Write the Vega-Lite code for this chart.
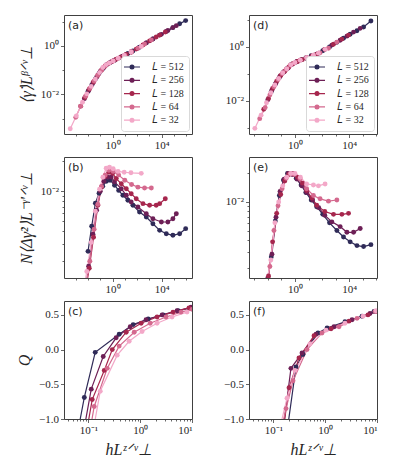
{
"$schema": "https://vega.github.io/schema/vega-lite/v6.json",
"padding": {"left": 16, "top": 14, "right": 5, "bottom": 5},
"bounds": "flush",
"columns": 2,
"spacing": {"row": 23, "column": 57},
"config": {
  "view": {"stroke": "#404040", "strokeWidth": 1},
  "axis": {"grid": false, "domain": false, "labelFont": "Liberation Serif", "labelFontSize": 11, "labelColor": "#262626", "titleFont": "Liberation Serif", "titleFontSize": 16, "titleFontWeight": "normal", "titleFontStyle": "italic", "titleColor": "#262626", "titlePadding": 6, "tickColor": "#404040", "tickWidth": 0.8, "tickSize": 3.5, "labelPadding": 2},
  "title": {"anchor": "start", "frame": "group", "offset": -16, "dx": 4, "font": "DejaVu Sans", "fontSize": 11, "fontWeight": "normal", "color": "#262626"},
  "line": {"strokeWidth": 1.2},
  "point": {"filled": true, "size": 24, "opacity": 1}
},
"datasets": {
"left": [
{"L":"512","x":0.01,"a":0.0132,"b":0.00251},{"L":"512","x":0.02,"a":0.024,"b":0.00447},{"L":"512","x":0.0398,"a":0.0427,"b":0.00759},{"L":"512","x":0.0794,"a":0.0741,"b":0.00955},{"L":"512","x":0.158,"a":0.115,"b":0.0112},{"L":"512","x":0.316,"a":0.166,"b":0.0126},{"L":"512","x":0.631,"a":0.204,"b":0.0129},{"L":"512","x":1.45,"a":0.257,"b":0.0115},{"L":"512","x":3.16,"a":0.316,"b":0.0102},{"L":"512","x":6.92,"a":0.38,"b":0.00912},{"L":"512","x":17.8,"a":0.49,"b":0.00813},{"L":"512","x":45.7,"a":0.617,"b":0.00724},{"L":"512","x":158,"a":0.891,"b":0.00621},{"L":"512","x":562,"a":1.35,"b":0.00553},{"L":"512","x":1950,"a":1.95,"b":0.00474},{"L":"512","x":6920,"a":2.82,"b":0.00407},{"L":"512","x":24000,"a":3.98,"b":0.00377},{"L":"512","x":83200,"a":5.75,"b":0.00363},{"L":"512","x":295000,"a":8.32,"b":0.00377},{"L":"512","x":912000,"a":11.2,"b":0.00423},
{"L":"256","x":0.00501,"a":0.00661,"b":0.000832},{"L":"256","x":0.0112,"a":0.0145,"b":0.00178},{"L":"256","x":0.0251,"a":0.0295,"b":0.00372},{"L":"256","x":0.0501,"a":0.0513,"b":0.00646},{"L":"256","x":0.1,"a":0.0891,"b":0.01},{"L":"256","x":0.2,"a":0.129,"b":0.0126},{"L":"256","x":0.398,"a":0.178,"b":0.0138},{"L":"256","x":0.776,"a":0.219,"b":0.0139},{"L":"256","x":1.45,"a":0.257,"b":0.0124},{"L":"256","x":5.13,"a":0.355,"b":0.0106},{"L":"256","x":13.2,"a":0.447,"b":0.00912},{"L":"256","x":33.1,"a":0.575,"b":0.00782},{"L":"256","x":117,"a":0.813,"b":0.00697},{"L":"256","x":562,"a":1.35,"b":0.00597},{"L":"256","x":1950,"a":1.95,"b":0.00532},{"L":"256","x":9550,"a":3.02,"b":0.00493},{"L":"256","x":32400,"a":4.37,"b":0.00493},{"L":"256","x":83200,"a":5.75,"b":0.00532},{"L":"256","x":158000,"a":6.92,"b":0.00597},
{"L":"128","x":0.00251,"a":0.00324,"b":0.000501},{"L":"128","x":0.00562,"a":0.00741,"b":0.000933},{"L":"128","x":0.0126,"a":0.0162,"b":0.0017},{"L":"128","x":0.0282,"a":0.0324,"b":0.00347},{"L":"128","x":0.0631,"a":0.0617,"b":0.00724},{"L":"128","x":0.126,"a":0.1,"b":0.011},{"L":"128","x":0.251,"a":0.148,"b":0.0141},{"L":"128","x":0.501,"a":0.195,"b":0.0155},{"L":"128","x":1,"a":0.234,"b":0.0151},{"L":"128","x":2,"a":0.282,"b":0.0134},{"L":"128","x":5.13,"a":0.355,"b":0.0119},{"L":"128","x":13.2,"a":0.447,"b":0.0106},{"L":"128","x":33.1,"a":0.55,"b":0.00946},{"L":"128","x":85.1,"a":0.741,"b":0.00843},{"L":"128","x":302,"a":1.1,"b":0.00752},{"L":"128","x":1050,"a":1.62,"b":0.00724},{"L":"128","x":3630,"a":2.34,"b":0.00724},{"L":"128","x":6920,"a":2.82,"b":0.00752},{"L":"128","x":20000,"a":3.8,"b":0.00843},
{"L":"64","x":0.001,"a":0.00112,"b":0.000316},{"L":"64","x":0.00251,"a":0.00324,"b":0.000631},{"L":"64","x":0.00631,"a":0.00832,"b":0.00107},{"L":"64","x":0.0141,"a":0.0178,"b":0.002},{"L":"64","x":0.0316,"a":0.0355,"b":0.00417},{"L":"64","x":0.0631,"a":0.0617,"b":0.00741},{"L":"64","x":0.126,"a":0.1,"b":0.0112},{"L":"64","x":0.251,"a":0.148,"b":0.0145},{"L":"64","x":0.501,"a":0.191,"b":0.0162},{"L":"64","x":1.12,"a":0.24,"b":0.0158},{"L":"64","x":3.16,"a":0.316,"b":0.0145},{"L":"64","x":10,"a":0.417,"b":0.0129},{"L":"64","x":35.5,"a":0.575,"b":0.0117},{"L":"64","x":117,"a":0.813,"b":0.011},{"L":"64","x":407,"a":1.2,"b":0.0108},{"L":"64","x":1450,"a":1.78,"b":0.0108},
{"L":"32","x":0.000355,"a":0.00038,"b":0.000158},{"L":"32","x":0.00112,"a":0.00129,"b":0.000398},{"L":"32","x":0.00355,"a":0.00468,"b":0.000891},{"L":"32","x":0.00794,"a":0.0105,"b":0.00158},{"L":"32","x":0.0182,"a":0.0214,"b":0.00309},{"L":"32","x":0.0398,"a":0.0427,"b":0.00631},{"L":"32","x":0.0871,"a":0.0794,"b":0.0105},{"L":"32","x":0.162,"a":0.129,"b":0.0138},{"L":"32","x":0.302,"a":0.17,"b":0.017},{"L":"32","x":0.562,"a":0.2,"b":0.0174},{"L":"32","x":1.12,"a":0.24,"b":0.0168},{"L":"32","x":2.82,"a":0.309,"b":0.0158},{"L":"32","x":8.91,"a":0.407,"b":0.0155},{"L":"32","x":31.6,"a":0.562,"b":0.0153},{"L":"32","x":219,"a":0.955,"b":0.0151}
],
"right": [
{"L":"512","x":0.0178,"d":0.0219,"e":0.00263},{"L":"512","x":0.0355,"d":0.0417,"e":0.00631},{"L":"512","x":0.0708,"d":0.0741,"e":0.0117},{"L":"512","x":0.141,"d":0.115,"e":0.017},{"L":"512","x":0.282,"d":0.162,"e":0.02},{"L":"512","x":0.562,"d":0.229,"e":0.02},{"L":"512","x":1.26,"d":0.275,"e":0.0178},{"L":"512","x":2.82,"d":0.331,"e":0.0151},{"L":"512","x":6.31,"d":0.389,"e":0.0126},{"L":"512","x":15.8,"d":0.468,"e":0.0105},{"L":"512","x":39.8,"d":0.537,"e":0.00891},{"L":"512","x":112,"d":0.724,"e":0.00741},{"L":"512","x":355,"d":1.0,"e":0.00603},{"L":"512","x":1230,"d":1.48,"e":0.00501},{"L":"512","x":3800,"d":2.09,"e":0.00427},{"L":"512","x":11700,"d":2.95,"e":0.0038},{"L":"512","x":37200,"d":3.98,"e":0.00347},{"L":"512","x":115000,"d":5.5,"e":0.00339},{"L":"512","x":398000,"d":9.12,"e":0.00355},
{"L":"256","x":0.01,"d":0.011,"e":0.00158},{"L":"256","x":0.02,"d":0.0251,"e":0.00282},{"L":"256","x":0.0398,"d":0.0457,"e":0.00692},{"L":"256","x":0.0794,"d":0.0813,"e":0.0129},{"L":"256","x":0.158,"d":0.12,"e":0.0174},{"L":"256","x":0.316,"d":0.166,"e":0.02},{"L":"256","x":0.631,"d":0.229,"e":0.0195},{"L":"256","x":1.41,"d":0.288,"e":0.0174},{"L":"256","x":3.16,"d":0.339,"e":0.0148},{"L":"256","x":7.24,"d":0.398,"e":0.0126},{"L":"256","x":20,"d":0.479,"e":0.0105},{"L":"256","x":56.2,"d":0.589,"e":0.00871},{"L":"256","x":158,"d":0.813,"e":0.00724},{"L":"256","x":525,"d":1.17,"e":0.00617},{"L":"256","x":2140,"d":1.78,"e":0.0055},{"L":"256","x":6760,"d":2.51,"e":0.00479},{"L":"256","x":20900,"d":3.55,"e":0.00479},{"L":"256","x":64600,"d":4.9,"e":0.00525},
{"L":"128","x":0.00501,"d":0.0049,"e":0.000708},{"L":"128","x":0.0112,"d":0.0123,"e":0.00166},{"L":"128","x":0.0224,"d":0.0288,"e":0.0038},{"L":"128","x":0.0447,"d":0.0537,"e":0.00759},{"L":"128","x":0.0891,"d":0.0871,"e":0.012},{"L":"128","x":0.178,"d":0.126,"e":0.0166},{"L":"128","x":0.355,"d":0.182,"e":0.0195},{"L":"128","x":0.708,"d":0.24,"e":0.02},{"L":"128","x":1.58,"d":0.288,"e":0.0182},{"L":"128","x":3.55,"d":0.339,"e":0.0158},{"L":"128","x":7.24,"d":0.38,"e":0.0132},{"L":"128","x":17.8,"d":0.457,"e":0.011},{"L":"128","x":39.8,"d":0.537,"e":0.00923},{"L":"128","x":158,"d":0.813,"e":0.00794},{"L":"128","x":692,"d":1.26,"e":0.00741},{"L":"128","x":2880,"d":1.95,"e":0.00741},{"L":"128","x":8910,"d":2.75,"e":0.00759},
{"L":"64","x":0.00251,"d":0.00219,"e":0.00038},{"L":"64","x":0.00631,"d":0.00562,"e":0.001},{"L":"64","x":0.0141,"d":0.0166,"e":0.00209},{"L":"64","x":0.0282,"d":0.0331,"e":0.00501},{"L":"64","x":0.0562,"d":0.0617,"e":0.00912},{"L":"64","x":0.112,"d":0.102,"e":0.0138},{"L":"64","x":0.224,"d":0.148,"e":0.0178},{"L":"64","x":0.447,"d":0.209,"e":0.02},{"L":"64","x":0.891,"d":0.251,"e":0.0195},{"L":"64","x":2.34,"d":0.324,"e":0.0176},{"L":"64","x":7.24,"d":0.398,"e":0.0138},{"L":"64","x":22.9,"d":0.49,"e":0.0117},{"L":"64","x":70.8,"d":0.603,"e":0.0108},{"L":"64","x":295,"d":0.891,"e":0.0102},{"L":"64","x":1230,"d":1.51,"e":0.0105},
{"L":"32","x":0.0011,"d":0.000955,"e":0.0002},{"L":"32","x":0.00316,"d":0.00295,"e":0.000501},{"L":"32","x":0.00794,"d":0.00851,"e":0.00141},{"L":"32","x":0.0166,"d":0.02,"e":0.00245},{"L":"32","x":0.0331,"d":0.0389,"e":0.00603},{"L":"32","x":0.0631,"d":0.0676,"e":0.01},{"L":"32","x":0.126,"d":0.11,"e":0.0148},{"L":"32","x":0.251,"d":0.155,"e":0.0182},{"L":"32","x":0.501,"d":0.219,"e":0.02},{"L":"32","x":1,"d":0.263,"e":0.02},{"L":"32","x":2.51,"d":0.324,"e":0.0182},{"L":"32","x":7.24,"d":0.398,"e":0.0155},{"L":"32","x":22.9,"d":0.49,"e":0.0151},{"L":"32","x":53.7,"d":0.589,"e":0.0148},{"L":"32","x":166,"d":0.813,"e":0.0155}
],
"c": [
{"L":"512","x":0.0492,"q":-1.6},{"L":"512","x":0.0838,"q":-0.69},{"L":"512","x":0.136,"q":-0.04},{"L":"512","x":0.394,"q":0.22},{"L":"512","x":0.733,"q":0.36},{"L":"512","x":1.43,"q":0.44},{"L":"512","x":2.77,"q":0.5},{"L":"512","x":5.38,"q":0.56},{"L":"512","x":9.57,"q":0.6},
{"L":"256","x":0.0643,"q":-1.6},{"L":"256","x":0.114,"q":-0.57},{"L":"256","x":0.194,"q":-0.1},{"L":"256","x":0.345,"q":0.17},{"L":"256","x":0.643,"q":0.33},{"L":"256","x":1.3,"q":0.43},{"L":"256","x":2.65,"q":0.5},{"L":"256","x":5.15,"q":0.56},{"L":"256","x":9.57,"q":0.61},
{"L":"128","x":0.0702,"q":-1.7},{"L":"128","x":0.119,"q":-0.72},{"L":"128","x":0.203,"q":-0.3},{"L":"128","x":0.29,"q":0.0},{"L":"128","x":0.538,"q":0.25},{"L":"128","x":1.045,"q":0.38},{"L":"128","x":2.12,"q":0.47},{"L":"128","x":4.31,"q":0.54},{"L":"128","x":8.75,"q":0.6},
{"L":"64","x":0.0767,"q":-1.8},{"L":"64","x":0.13,"q":-0.82},{"L":"64","x":0.232,"q":-0.27},{"L":"64","x":0.394,"q":0.05},{"L":"64","x":0.767,"q":0.25},{"L":"64","x":1.56,"q":0.38},{"L":"64","x":3.16,"q":0.47},{"L":"64","x":6.14,"q":0.54},{"L":"64","x":10,"q":0.58},
{"L":"32","x":0.0875,"q":-1.8},{"L":"32","x":0.17,"q":-0.6},{"L":"32","x":0.361,"q":-0.08},{"L":"32","x":0.614,"q":0.12},{"L":"32","x":1.09,"q":0.26},{"L":"32","x":2.12,"q":0.38},{"L":"32","x":4.12,"q":0.47},{"L":"32","x":8.02,"q":0.54}
],
"f": [
{"L":"512","x":0.154,"q":-1.6},{"L":"512","x":0.274,"q":-0.25},{"L":"512","x":0.374,"q":-0.07},{"L":"512","x":0.728,"q":0.24},{"L":"512","x":1.09,"q":0.31},{"L":"512","x":2.41,"q":0.4},{"L":"512","x":5.14,"q":0.48},{"L":"512","x":8.75,"q":0.55},
{"L":"256","x":0.135,"q":-1.5},{"L":"256","x":0.219,"q":-0.27},{"L":"256","x":0.358,"q":-0.05},{"L":"256","x":0.667,"q":0.22},{"L":"256","x":1.48,"q":0.33},{"L":"256","x":3.3,"q":0.43},{"L":"256","x":7.33,"q":0.52},
{"L":"128","x":0.129,"q":-1.6},{"L":"128","x":0.201,"q":-0.55},{"L":"128","x":0.313,"q":-0.12},{"L":"128","x":0.61,"q":0.2},{"L":"128","x":1.3,"q":0.3},{"L":"128","x":2.88,"q":0.41},{"L":"128","x":6.7,"q":0.5},{"L":"128","x":10,"q":0.55},
{"L":"64","x":0.113,"q":-1.5},{"L":"64","x":0.176,"q":-0.85},{"L":"64","x":0.24,"q":-0.45},{"L":"64","x":0.447,"q":0.0},{"L":"64","x":0.869,"q":0.24},{"L":"64","x":1.85,"q":0.33},{"L":"64","x":4.12,"q":0.45},{"L":"64","x":9.14,"q":0.55},
{"L":"32","x":0.118,"q":-1.3},{"L":"32","x":0.184,"q":-0.7},{"L":"32","x":0.262,"q":-0.3},{"L":"32","x":0.51,"q":0.08},{"L":"32","x":1.04,"q":0.28},{"L":"32","x":2.41,"q":0.38},{"L":"32","x":5.37,"q":0.48},{"L":"32","x":9.57,"q":0.56}
]
},
"concat": [
 {"width": 128, "height": 119, "title": {"text": "(a)"}, "data": {"name": "left"},
  "encoding": {
   "x": {"field": "x", "type": "quantitative", "scale": {"type": "log", "domain": [0.00011, 3000000]}, "axis": {"title": null, "values": [0.001,0.01,0.1,1,10,100,1000,10000,100000,1000000], "labelExpr": "datum.value == 1 ? '10⁰' : datum.value == 10000 ? '10⁴' : ''", "tickSize": {"condition": {"test": "datum.value == 1 || datum.value == 10000", "value": 3.5}, "value": 2}}},
   "y": {"field": "a", "type": "quantitative", "scale": {"type": "log", "domain": [0.000229, 19.1]}, "axis": {"title": "⟨γ̇⟩Lᵝᐟᵛ⊥", "values": [0.001,0.01,0.1,1,10], "labelExpr": "datum.value == 1 ? '10⁰' : datum.value == 0.01 ? '10⁻²' : ''", "tickSize": {"condition": {"test": "datum.value == 1 || datum.value == 0.01", "value": 3.5}, "value": 2}}},
   "color": {"field": "L", "type": "nominal", "scale": {"domain": ["512","256","128","64","32"], "range": ["#2f2b58","#6d1f56","#a6264d","#d4698e","#f3a8c8"]}, "legend": {"orient": "bottom-right", "offset": 3, "title": null, "labelExpr": "'𝐿 = ' + datum.label", "labelFont": "Liberation Serif", "labelFontSize": 10, "labelColor": "#262626", "symbolType": "M-1.6,0L1.6,0M0.38,0A0.38,0.38 0 1,1 -0.38,0A0.38,0.38 0 1,1 0.38,0M0.2,0A0.2,0.2 0 1,1 -0.2,0A0.2,0.2 0 1,1 0.2,0M0.05,0A0.05,0.05 0 1,1 -0.05,0A0.05,0.05 0 1,1 0.05,0", "symbolSize": 100, "symbolStrokeWidth": 1.3, "symbolOpacity": 1, "labelOffset": 14, "rowPadding": 2.3, "padding": 5, "strokeColor": "#d9d9d9", "fillColor": "white", "cornerRadius": 3}}
  },
  "layer": [
   {"mark": {"type": "line", "clip": true}},
   {"mark": {"type": "point", "clip": true}}
  ]},
 {"width": 128, "height": 119, "title": {"text": "(d)"}, "data": {"name": "right"},
  "encoding": {
   "x": {"field": "x", "type": "quantitative", "scale": {"type": "log", "domain": [0.000407, 1120000]}, "axis": {"title": null, "values": [0.001,0.01,0.1,1,10,100,1000,10000,100000,1000000], "labelExpr": "datum.value == 1 ? '10⁰' : datum.value == 10000 ? '10⁴' : ''", "tickSize": {"condition": {"test": "datum.value == 1 || datum.value == 10000", "value": 3.5}, "value": 2}}},
   "y": {"field": "d", "type": "quantitative", "scale": {"type": "log", "domain": [0.000589, 15.3]}, "axis": {"title": null, "values": [0.001,0.01,0.1,1,10], "labelExpr": "datum.value == 1 ? '10⁰' : datum.value == 0.01 ? '10⁻²' : ''", "tickSize": {"condition": {"test": "datum.value == 1 || datum.value == 0.01", "value": 3.5}, "value": 2}}},
   "color": {"field": "L", "type": "nominal", "scale": {"domain": ["512","256","128","64","32"], "range": ["#2f2b58","#6d1f56","#a6264d","#d4698e","#f3a8c8"]}, "legend": {"orient": "bottom-right", "offset": 3, "title": null, "labelExpr": "'𝐿 = ' + datum.label", "labelFont": "Liberation Serif", "labelFontSize": 10, "labelColor": "#262626", "symbolType": "M-1.6,0L1.6,0M0.38,0A0.38,0.38 0 1,1 -0.38,0A0.38,0.38 0 1,1 0.38,0M0.2,0A0.2,0.2 0 1,1 -0.2,0A0.2,0.2 0 1,1 0.2,0M0.05,0A0.05,0.05 0 1,1 -0.05,0A0.05,0.05 0 1,1 0.05,0", "symbolSize": 100, "symbolStrokeWidth": 1.3, "symbolOpacity": 1, "labelOffset": 14, "rowPadding": 2.3, "padding": 5, "strokeColor": "#d9d9d9", "fillColor": "white", "cornerRadius": 3}}
  },
  "layer": [
   {"mark": {"type": "line", "clip": true}},
   {"mark": {"type": "point", "clip": true}}
  ]},
 {"width": 128, "height": 121, "title": {"text": "(b)"}, "data": {"name": "left"},
  "encoding": {
   "x": {"field": "x", "type": "quantitative", "scale": {"type": "log", "domain": [0.00011, 3000000]}, "axis": {"title": null, "values": [0.001,0.01,0.1,1,10,100,1000,10000,100000,1000000], "labelExpr": "datum.value == 1 ? '10⁰' : datum.value == 10000 ? '10⁴' : ''", "tickSize": {"condition": {"test": "datum.value == 1 || datum.value == 10000", "value": 3.5}, "value": 2}}},
   "y": {"field": "b", "type": "quantitative", "scale": {"type": "log", "domain": [0.00136, 0.022]}, "axis": {"title": "N⟨Δγ̇²⟩L⁻ᵞ'ᐟᵛ⊥", "values": [0.002,0.003,0.004,0.005,0.006,0.007,0.008,0.009,0.01,0.02], "labelExpr": "datum.value == 0.01 ? '10⁻²' : ''", "tickSize": {"condition": {"test": "datum.value == 0.01", "value": 3.5}, "value": 2}}},
   "color": {"field": "L", "type": "nominal", "scale": {"domain": ["512","256","128","64","32"], "range": ["#2f2b58","#6d1f56","#a6264d","#d4698e","#f3a8c8"]}, "legend": null}
  },
  "layer": [
   {"mark": {"type": "line", "clip": true}},
   {"mark": {"type": "point", "clip": true}}
  ]},
 {"width": 128, "height": 121, "title": {"text": "(e)"}, "data": {"name": "right"},
  "encoding": {
   "x": {"field": "x", "type": "quantitative", "scale": {"type": "log", "domain": [0.000407, 1120000]}, "axis": {"title": null, "values": [0.001,0.01,0.1,1,10,100,1000,10000,100000,1000000], "labelExpr": "datum.value == 1 ? '10⁰' : datum.value == 10000 ? '10⁴' : ''", "tickSize": {"condition": {"test": "datum.value == 1 || datum.value == 10000", "value": 3.5}, "value": 2}}},
   "y": {"field": "e", "type": "quantitative", "scale": {"type": "log", "domain": [0.00158, 0.0298]}, "axis": {"title": null, "values": [0.002,0.003,0.004,0.005,0.006,0.007,0.008,0.009,0.01,0.02], "labelExpr": "datum.value == 0.01 ? '10⁻²' : ''", "tickSize": {"condition": {"test": "datum.value == 0.01", "value": 3.5}, "value": 2}}},
   "color": {"field": "L", "type": "nominal", "scale": {"domain": ["512","256","128","64","32"], "range": ["#2f2b58","#6d1f56","#a6264d","#d4698e","#f3a8c8"]}, "legend": null}
  },
  "layer": [
   {"mark": {"type": "line", "clip": true}},
   {"mark": {"type": "point", "clip": true}}
  ]},
 {"width": 128, "height": 118, "title": {"text": "(c)"}, "data": {"name": "c"},
  "encoding": {
   "x": {"field": "x", "type": "quantitative", "scale": {"type": "log", "domain": [0.034, 10]}, "axis": {"title": "hLᶻᐟᵛ⊥", "values": [0.04,0.05,0.06,0.07,0.08,0.09,0.1,0.2,0.3,0.4,0.5,0.6,0.7,0.8,0.9,1,2,3,4,5,6,7,8,9,10], "labelExpr": "datum.value == 0.1 ? '10⁻¹' : datum.value == 1 ? '10⁰' : datum.value == 10 ? '10¹' : ''", "tickSize": {"condition": {"test": "datum.value == 0.1 || datum.value == 1 || datum.value == 10", "value": 3.5}, "value": 2}}},
   "y": {"field": "q", "type": "quantitative", "scale": {"domain": [-1, 0.7]}, "axis": {"title": "Q", "values": [-1,-0.5,0,0.5], "labelExpr": "replace(format(datum.value, '.1f'), '-', '−')"}},
   "color": {"field": "L", "type": "nominal", "scale": {"domain": ["512","256","128","64","32"], "range": ["#2f2b58","#6d1f56","#a6264d","#d4698e","#f3a8c8"]}, "legend": null}
  },
  "layer": [
   {"mark": {"type": "line", "clip": true}},
   {"mark": {"type": "point", "clip": true}}
  ]},
 {"width": 128, "height": 118, "title": {"text": "(f)"}, "data": {"name": "f"},
  "encoding": {
   "x": {"field": "x", "type": "quantitative", "scale": {"type": "log", "domain": [0.034, 10]}, "axis": {"title": "hLᶻᐟᵛ⊥", "values": [0.04,0.05,0.06,0.07,0.08,0.09,0.1,0.2,0.3,0.4,0.5,0.6,0.7,0.8,0.9,1,2,3,4,5,6,7,8,9,10], "labelExpr": "datum.value == 0.1 ? '10⁻¹' : datum.value == 1 ? '10⁰' : datum.value == 10 ? '10¹' : ''", "tickSize": {"condition": {"test": "datum.value == 0.1 || datum.value == 1 || datum.value == 10", "value": 3.5}, "value": 2}}},
   "y": {"field": "q", "type": "quantitative", "scale": {"domain": [-1, 0.7]}, "axis": {"title": null, "values": [-1,-0.5,0,0.5], "labelExpr": "replace(format(datum.value, '.1f'), '-', '−')"}},
   "color": {"field": "L", "type": "nominal", "scale": {"domain": ["512","256","128","64","32"], "range": ["#2f2b58","#6d1f56","#a6264d","#d4698e","#f3a8c8"]}, "legend": null}
  },
  "layer": [
   {"mark": {"type": "line", "clip": true}},
   {"mark": {"type": "point", "clip": true}}
  ]}
],
"resolve": {"scale": {"color": "independent"}, "legend": {"color": "independent"}}
}
